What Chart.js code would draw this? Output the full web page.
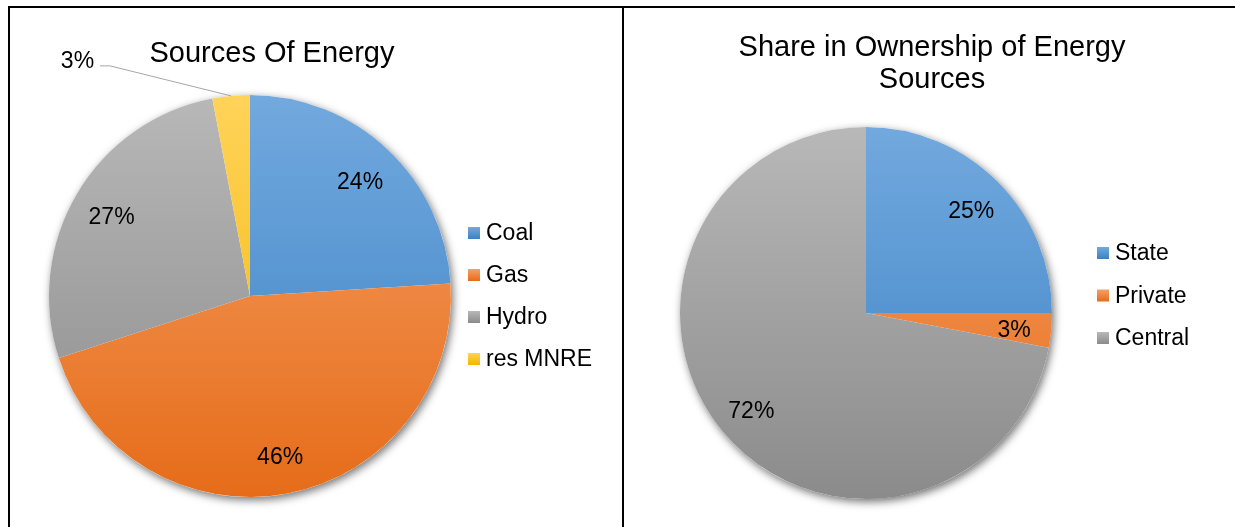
<!DOCTYPE html>
<html>
<head>
<meta charset="utf-8">
<script src="https://cdn.jsdelivr.net/npm/chart.js@4/dist/chart.umd.min.js"></script>
<style>
  body { margin: 0; background: #fff; width: 1235px; height: 527px; overflow: hidden; position: relative; }
  .frame { position: absolute; left: 8px; top: 6px; right: 0; bottom: 0; border-left: 2px solid #000; border-top: 2px solid #000; }
  .divider { position: absolute; left: 622px; top: 6px; bottom: 0; width: 2px; background: #000; }
  canvas { position: absolute; top: 8px; }
  #sources-chart { left: 10px; }
  #ownership-chart { left: 624px; }
</style>
</head>
<body>
<div class="frame"></div>
<div class="divider"></div>
<canvas id="sources-chart" width="612" height="519"></canvas>
<canvas id="ownership-chart" width="611" height="519"></canvas>
<script>
const sourceLabels = ['Coal', 'Gas', 'Hydro', 'res MNRE'];
const sourceShares = [24, 46, 27, 3];

const ownershipLabels = ['State', 'Private', 'Central'];
const ownershipShares = [25, 3, 72];

// light-to-dark stops for each slice (top of pie -> bottom)
const BLUE = ['#72a9de', '#3b81c5'];
const ORANGE = ['#f5a066', '#e66c19'];
const GREY = ['#b8b8b8', '#8b8b8b'];
const GOLD = ['#ffd35a', '#f2b500'];

const FONT = '"Liberation Sans", Arial, sans-serif';

function verticalGradient(ctx, stops, top, bottom) {
  const g = ctx.createLinearGradient(0, top, 0, bottom);
  g.addColorStop(0, stops[0]);
  g.addColorStop(1, stops[1]);
  return g;
}

function sliceFill(palette) {
  return context => {
    const area = context.chart.chartArea;
    const stops = palette[context.dataIndex % palette.length];
    if (!area) return stops[0];
    return verticalGradient(context.chart.ctx, stops, area.top, area.bottom);
  };
}

// soft drop shadow under the whole disc, drawn once before the slices
const pieShadow = {
  id: 'pieShadow',
  beforeDatasetsDraw(chart) {
    const arc = chart.getDatasetMeta(0).data[0];
    if (!arc) return;
    const { ctx } = chart;
    ctx.save();
    ctx.shadowColor = 'rgba(0, 0, 0, 0.55)';
    ctx.shadowBlur = 9;
    ctx.shadowOffsetX = 2;
    ctx.shadowOffsetY = 3;
    ctx.fillStyle = '#fff';
    ctx.beginPath();
    ctx.arc(arc.x, arc.y, arc.outerRadius, 0, Math.PI * 2);
    ctx.fill();
    ctx.restore();
  },
};

const sliceLabels = {
  id: 'sliceLabels',
  afterDatasetsDraw(chart, args, opts) {
    const { ctx } = chart;
    const values = chart.data.datasets[0].data;
    const total = values.reduce((a, b) => a + b, 0);
    ctx.save();
    ctx.font = opts.font;
    ctx.fillStyle = '#000';
    ctx.textBaseline = 'middle';
    chart.getDatasetMeta(0).data.forEach((arc, i) => {
      const text = Math.round(values[i] / total * 100) + '%';
      const mid = (arc.startAngle + arc.endAngle) / 2;
      const callout = opts.callouts && opts.callouts[i];
      if (callout) {
        const ex = arc.x + Math.cos(mid) * arc.outerRadius;
        const ey = arc.y + Math.sin(mid) * arc.outerRadius;
        const kx = ex + callout.dx;
        const ky = ey + callout.dy;
        ctx.strokeStyle = '#a6a6a6';
        ctx.lineWidth = 1;
        ctx.beginPath();
        ctx.moveTo(ex, ey);
        ctx.lineTo(kx, ky);
        ctx.lineTo(kx - callout.tail, ky);
        ctx.stroke();
        ctx.textAlign = 'right';
        ctx.fillText(text, kx - callout.tail - 6, ky - 4);
      } else {
        const r = arc.outerRadius * opts.radial;
        ctx.textAlign = 'center';
        ctx.fillText(text, arc.x + Math.cos(mid) * r, arc.y + Math.sin(mid) * r + 4);
      }
    });
    ctx.restore();
  },
};

const sideLegend = {
  id: 'sideLegend',
  afterDraw(chart, args, opts) {
    const { ctx } = chart;
    ctx.save();
    ctx.font = opts.font;
    ctx.textAlign = 'left';
    ctx.textBaseline = 'middle';
    chart.data.labels.forEach((label, i) => {
      const y = opts.y + i * opts.gap;
      const s = opts.box;
      ctx.fillStyle = verticalGradient(ctx, opts.palette[i], y - s / 2, y + s / 2);
      ctx.fillRect(opts.x, y - s / 2, s, s);
      ctx.fillStyle = '#000';
      ctx.fillText(label, opts.x + s + 6, y + 1);
    });
    ctx.restore();
  },
};

const chartTitle = {
  id: 'chartTitle',
  afterDraw(chart, args, opts) {
    const { ctx } = chart;
    ctx.save();
    ctx.font = opts.font;
    ctx.fillStyle = '#000';
    ctx.textAlign = 'center';
    ctx.textBaseline = 'middle';
    opts.lines.forEach((line, i) => ctx.fillText(line, opts.x, opts.y + i * opts.lineHeight));
    ctx.restore();
  },
};

function makePie(canvasId, labels, values, palette, padding, extra) {
  return new Chart(document.getElementById(canvasId), {
    type: 'pie',
    data: {
      labels,
      datasets: [{
        data: values,
        backgroundColor: sliceFill(palette),
        borderWidth: 0,
        hoverOffset: 0,
      }],
    },
    options: {
      responsive: false,
      animation: false,
      events: [],
      layout: { padding },
      plugins: {
        legend: { display: false },
        tooltip: { enabled: false },
        title: { display: false },
        sliceLabels: { font: '23px ' + FONT, radial: 0.8, callouts: extra.callouts },
        sideLegend: { font: '23px ' + FONT, palette, box: 12, ...extra.legend },
        chartTitle: { font: '29px ' + FONT, lineHeight: 32, ...extra.title },
      },
    },
    plugins: [pieShadow, sliceLabels, sideLegend, chartTitle],
  });
}

makePie('sources-chart', sourceLabels, sourceShares, [BLUE, ORANGE, GREY, GOLD],
  { left: 39, top: 87, right: 171, bottom: 30 },
  {
    callouts: { 3: { dx: -121, dy: -30, tail: 10 } },
    legend: { x: 458, y: 225, gap: 42 },
    title: { lines: ['Sources Of Energy'], x: 262, y: 46 },
  });

makePie('ownership-chart', ownershipLabels, ownershipShares, [BLUE, ORANGE, GREY],
  { left: 56, top: 119, right: 183, bottom: 28 },
  {
    callouts: null,
    legend: { x: 473, y: 245, gap: 42.5 },
    title: { lines: ['Share in Ownership of Energy', 'Sources'], x: 308, y: 40 },
  });
</script>
</body>
</html>
